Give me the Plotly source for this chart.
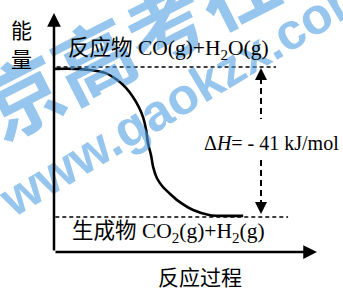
import plotly.graph_objects as go

# ---- data ----
progress = [0, 0.81, 1.40, 1.98, 2.44, 2.79, 3.06, 3.29, 3.45, 3.57, 3.64,
            3.76, 3.84, 3.99, 4.22, 4.50, 4.77, 5.39, 6.05, 7.33]
energy = [-0.5, -0.5, -0.8, -1.6, -3.5, -5.7, -8.2, -11.0, -13.7, -17.2, -20.8,
          -24.1, -27.3, -30.4, -32.8, -34.7, -36.4, -39.1, -40.5, -40.7]
reactant_E = 0
product_E = -41
delta_H = product_E - reactant_E

reactant_label = "反应物 CO(g)+H<sub>2</sub>O(g)"
product_label = "生成物 CO<sub>2</sub>(g)+H<sub>2</sub>(g)"
dh_label = "Δ<i>H</i>= - 41 kJ/mol"
x_title = "反应过程"
y_title = ["能", "量"]

X_MAX = 10.19
Y_MIN, Y_MAX = -50.57, 14.76
FONT = "Liberation Serif, Noto Sans CJK SC, serif"

fig = go.Figure()

# reactant / product dashed levels
fig.add_trace(go.Scatter(x=[0.1, 8.6], y=[reactant_E, reactant_E], mode="lines",
                         line=dict(color="black", width=1.5, dash="4px,3px"), hoverinfo="skip"))
fig.add_trace(go.Scatter(x=[0.05, 9.07], y=[product_E, product_E], mode="lines",
                         line=dict(color="black", width=1.5, dash="4px,3px"), hoverinfo="skip"))
# reaction curve
fig.add_trace(go.Scatter(x=progress, y=energy, mode="lines",
                         line=dict(color="black", width=2.6, shape="spline", smoothing=0.6),
                         hoverinfo="skip"))
# vertical dashed ΔH double arrow segments
xv = 8.02
fig.add_trace(go.Scatter(x=[xv, xv], y=[reactant_E - 3.0, -14.2], mode="lines",
                         line=dict(color="black", width=2, dash="6px,4px"), hoverinfo="skip"))
fig.add_trace(go.Scatter(x=[xv, xv], y=[-25.4, product_E + 3.0], mode="lines",
                         line=dict(color="black", width=2, dash="6px,4px"), hoverinfo="skip"))

C = dict(xanchor="center", yanchor="middle")
ann = []
# watermark
wm = "rgba(80,158,225,0.6)"
ann.append(dict(xref="paper", yref="paper", x=0.281, y=0.895, text="<b>北京高考在线</b>",
                showarrow=False, textangle=-27, font=dict(size=80, color=wm, family="Noto Sans CJK SC"), **C))
ann.append(dict(xref="paper", yref="paper", x=0.498, y=0.661, text="<b>www.gaokzx.com</b>",
                showarrow=False, textangle=-31, font=dict(size=51, color=wm, family="Liberation Sans, Arial"), **C))

# axes arrows
ann.append(dict(x=0, y=Y_MAX, ax=0, ay=Y_MIN, xref="x", yref="y", axref="x", ayref="y",
                text="", showarrow=True, arrowhead=2, arrowsize=1.1, arrowwidth=2.5, arrowcolor="black"))
ann.append(dict(x=X_MAX, y=Y_MIN, ax=0, ay=Y_MIN, xref="x", yref="y", axref="x", ayref="y",
                text="", showarrow=True, arrowhead=2, arrowsize=1.1, arrowwidth=2.5, arrowcolor="black"))
# ΔH arrowheads
ann.append(dict(x=xv, y=reactant_E - 0.3, ax=xv, ay=reactant_E - 3.5, xref="x", yref="y", axref="x", ayref="y",
                text="", showarrow=True, arrowhead=2, arrowsize=1.2, arrowwidth=2, arrowcolor="black"))
ann.append(dict(x=xv, y=product_E + 0.8, ax=xv, ay=product_E + 4.0, xref="x", yref="y", axref="x", ayref="y",
                text="", showarrow=True, arrowhead=2, arrowsize=1.2, arrowwidth=2, arrowcolor="black"))

# labels
ann.append(dict(x=4.42, y=reactant_E + 4.65, text=reactant_label, showarrow=False,
                font=dict(size=21.5, color="black", family=FONT), **C))
ann.append(dict(x=4.44, y=product_E - 4.37, text=product_label, showarrow=False,
                font=dict(size=21.5, color="black", family=FONT), **C))
ann.append(dict(x=8.43, y=-20.77, text=dh_label, showarrow=False,
                font=dict(size=20, color="black", family=FONT), **C))
ann.append(dict(xref="paper", yref="paper", x=0.555, y=-0.11, text=x_title, showarrow=False,
                font=dict(size=21, color="black", family=FONT), **C))
ann.append(dict(xref="paper", yref="paper", x=-0.122, y=0.925, text=y_title[0], showarrow=False,
                font=dict(size=21, color="black", family=FONT), **C))
ann.append(dict(xref="paper", yref="paper", x=-0.122, y=0.803, text=y_title[1], showarrow=False,
                font=dict(size=21, color="black", family=FONT), **C))

fig.update_layout(
    width=343, height=291,
    margin=dict(l=54, r=26, t=13, b=39),
    paper_bgcolor="white", plot_bgcolor="white",
    showlegend=False,
    xaxis=dict(range=[0, X_MAX], visible=False, fixedrange=True),
    yaxis=dict(range=[Y_MIN, Y_MAX], visible=False, fixedrange=True),
    annotations=ann,
)

fig.write_html("out.html", config={"displayModeBar": False},
               post_script="document.body.style.margin='0';document.body.style.overflow='hidden';")
